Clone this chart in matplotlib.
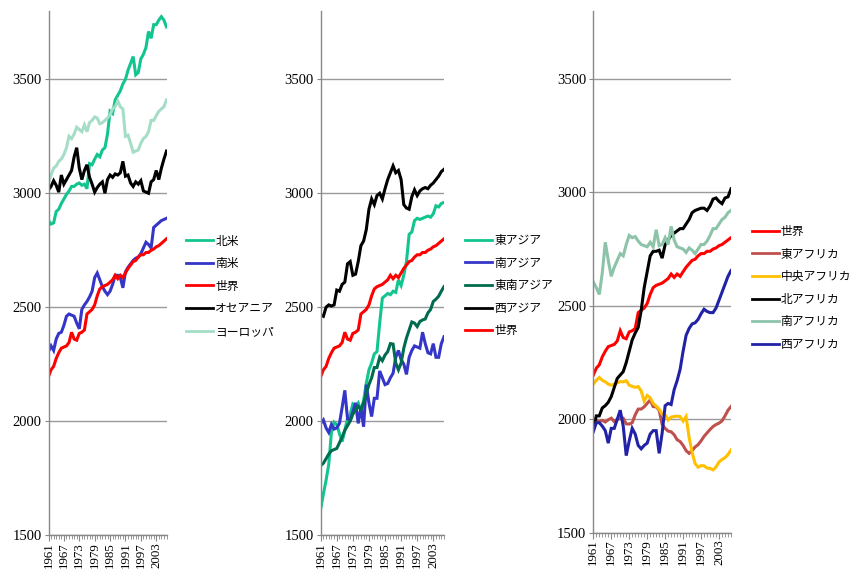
import numpy as np
import matplotlib
matplotlib.use("Agg")
import matplotlib.pyplot as plt
from matplotlib.ticker import FixedLocator, MultipleLocator

years = list(range(1961, 2008))
tick_years = list(range(1961, 2008, 6))
y_ticks = [1500, 2000, 2500, 3000, 3500]

world = [2195, 2225, 2240, 2275, 2300, 2320, 2325, 2330, 2345, 2390, 2360, 2355, 2385, 2390, 2400, 2470,
         2480, 2490, 2510, 2550, 2580, 2590, 2595, 2600, 2610, 2620, 2640, 2625, 2640, 2630, 2650, 2670,
         2685, 2700, 2705, 2720, 2730, 2730, 2740, 2740, 2750, 2755, 2765, 2770, 2780, 2790, 2800]

north_america = [2880, 2865, 2870, 2920, 2930, 2955, 2975, 2995, 3010, 3030, 3030, 3040, 3045, 3035, 3040, 3020,
                 3130, 3125, 3150, 3170, 3160, 3190, 3200, 3260, 3360, 3350, 3410, 3430, 3450, 3480, 3500, 3540,
                 3570, 3600, 3520, 3530, 3590, 3610, 3640, 3710, 3680, 3740, 3740, 3760, 3775, 3760, 3730]
south_america = [2305, 2330, 2310, 2360, 2385, 2390, 2420, 2460, 2470, 2465, 2460, 2430, 2405, 2490, 2510, 2525,
                 2545, 2570, 2630, 2650, 2620, 2590, 2570, 2555, 2570, 2600, 2640, 2640, 2630, 2585, 2655, 2675,
                 2690, 2705, 2715, 2720, 2735, 2760, 2785, 2775, 2760, 2850, 2860, 2870, 2880, 2885, 2890]
oceania = [3015, 3030, 3055, 3035, 3005, 3080, 3040, 3060, 3080, 3100, 3160, 3200, 3110, 3060, 3100, 3125,
           3070, 3040, 3005, 3025, 3040, 3050, 3000, 3060, 3080, 3070, 3085, 3080, 3090, 3140, 3075, 3080,
           3045, 3030, 3050, 3040, 3055, 3010, 3005, 3000, 3050, 3060, 3100, 3060, 3110, 3150, 3185]
europe = [3050, 3080, 3110, 3120, 3140, 3150, 3170, 3200, 3250, 3240, 3260, 3290, 3280, 3270, 3300, 3270,
          3310, 3320, 3335, 3330, 3305, 3310, 3320, 3330, 3345, 3370, 3380, 3405, 3380, 3370, 3250, 3255,
          3220, 3180, 3185, 3190, 3220, 3240, 3250, 3270, 3320, 3320, 3340, 3360, 3370, 3380, 3410]

east_asia = [1615, 1680, 1740, 1810, 1950, 1995, 1985, 1945, 1910, 1960, 2010, 2030, 2075, 2065, 2080, 2045,
             2090, 2165, 2225, 2255, 2295, 2305, 2430, 2540, 2550, 2560, 2555, 2570, 2565, 2620, 2595, 2640,
             2700, 2820, 2830, 2880, 2890, 2885, 2890, 2895, 2900, 2895, 2910, 2945, 2940, 2955, 2960]
south_asia = [1990, 2005, 1970, 1950, 1985, 1965, 1970, 1990, 2060, 2135, 2010, 2005, 2040, 2080, 1990, 2060,
              1975, 2160, 2080, 2020, 2100, 2100, 2220, 2190, 2160, 2165, 2190, 2210, 2280, 2310, 2270, 2250,
              2205, 2280, 2310, 2330, 2325, 2320, 2390, 2340, 2300, 2295, 2340, 2280, 2280, 2340, 2370]
southeast_asia = [1805, 1815, 1835, 1855, 1870, 1875, 1880, 1905, 1930, 1960, 1980, 2000, 2030, 2050, 2065, 2050,
                  2080, 2120, 2160, 2190, 2235, 2235, 2280, 2265, 2290, 2305, 2340, 2338, 2255, 2225, 2255, 2320,
                  2365, 2400, 2435, 2430, 2415, 2437, 2444, 2448, 2475, 2490, 2525, 2535, 2548, 2570, 2590]
west_asia = [2465, 2460, 2500, 2510, 2505, 2510, 2575, 2570, 2600, 2610, 2690, 2700, 2640, 2645, 2700, 2770,
             2790, 2840, 2930, 2975, 2950, 2990, 3000, 2975, 3020, 3060, 3090, 3120, 3090, 3100, 3060, 2950,
             2935, 2930, 2985, 3015, 2990, 3010, 3020, 3025, 3020, 3035, 3045, 3060, 3075, 3095, 3105]

east_africa = [1997, 1994, 1990, 1995, 1988, 1998, 2005, 1990, 2000, 2003, 2005, 1980, 1979, 1985, 2020, 2045,
               2045, 2055, 2070, 2085, 2056, 2055, 2040, 1978, 1960, 1948, 1945, 1932, 1910, 1902, 1885, 1862,
               1850, 1862, 1878, 1888, 1905, 1925, 1940, 1955, 1968, 1977, 1983, 1993, 2015, 2040, 2056]
central_africa = [2155, 2172, 2184, 2172, 2165, 2155, 2150, 2155, 2160, 2166, 2165, 2170, 2150, 2145, 2141, 2144,
                  2125, 2080, 2105, 2095, 2070, 2058, 2045, 2022, 2019, 1997, 2010, 2012, 2014, 2012, 1992, 2012,
                  1920, 1855, 1805, 1789, 1796, 1795, 1785, 1784, 1777, 1790, 1812, 1823, 1831, 1845, 1865]
north_africa = [1960, 2015, 2015, 2050, 2060, 2075, 2100, 2140, 2180, 2195, 2210, 2250, 2300, 2350, 2380, 2405,
                2480, 2580, 2650, 2720, 2740, 2740, 2745, 2710, 2770, 2790, 2810, 2820, 2830, 2840, 2840, 2860,
                2880, 2910, 2920, 2925, 2930, 2930, 2920, 2940, 2970, 2975, 2960, 2950, 2975, 2980, 3015]
southern_africa = [2605, 2580, 2550, 2645, 2780, 2700, 2630, 2670, 2700, 2730, 2720, 2770, 2810, 2800, 2805, 2785,
                   2770, 2765, 2760, 2780, 2760, 2835, 2765, 2770, 2800, 2770, 2850, 2790, 2760, 2755, 2750, 2735,
                   2755, 2745, 2730, 2750, 2770, 2770, 2785, 2810, 2840, 2840, 2860, 2880, 2890, 2910, 2920]
west_africa = [1945, 1985, 1985, 1970, 1950, 1895, 1960, 1960, 2000, 2040, 1970, 1840, 1905, 1960, 1935, 1885,
               1870, 1885, 1895, 1935, 1950, 1950, 1850, 1940, 2060, 2070, 2065, 2130, 2170, 2220, 2300, 2370,
               2400, 2420, 2425, 2440, 2465, 2485, 2475, 2470, 2470, 2490, 2525, 2560, 2595, 2630, 2655]

GREEN = "#12C58F"
BLUE = "#3535C8"
RED = "#FF0000"
BLACK = "#000000"
LIGHT = "#A6DDC6"
DKGREEN = "#006B4E"
BROWN = "#C0504D"
GOLD = "#FFC000"
GRAYGREEN = "#8DC3A9"
DKBLUE = "#2222A6"

panels = [
    dict(rect=[48.5, 11, 166.5, 535],
         series=[("北米", north_america, GREEN), ("南米", south_america, BLUE), ("世界", world, RED),
                 ("オセアニア", oceania, BLACK), ("ヨーロッパ", europe, LIGHT)],
         legend_xy=(186, 234.5)),
    dict(rect=[320.7, 11, 444, 535],
         series=[("東アジア", east_asia, GREEN), ("南アジア", south_asia, BLUE),
                 ("東南アジア", southeast_asia, DKGREEN), ("西アジア", west_asia, BLACK), ("世界", world, RED)],
         legend_xy=(465, 234)),
    dict(rect=[593.3, 10.7, 731, 532.8],
         series=[("世界", world, RED), ("東アフリカ", east_africa, BROWN), ("中央アフリカ", central_africa, GOLD),
                 ("北アフリカ", north_africa, BLACK), ("南アフリカ", southern_africa, GRAYGREEN),
                 ("西アフリカ", west_africa, DKBLUE)],
         legend_xy=(751.5, 225)),
]

W, H = 852, 570
fig = plt.figure(figsize=(W / 100, H / 100), dpi=100)
fig.patch.set_facecolor("white")

for p in panels:
    x0, y0, x1, y1 = p["rect"]
    ax = fig.add_axes([x0 / W, 1 - y1 / H, (x1 - x0) / W, (y1 - y0) / H])
    for label, vals, col in p["series"]:
        ax.plot(years, vals, color=col, lw=2.2, label=label, solid_joinstyle="miter")
    ax.set_xlim(1961, 2007)
    ax.set_ylim(1500, 3800)
    ax.yaxis.set_major_locator(FixedLocator(y_ticks))
    ax.xaxis.set_major_locator(FixedLocator(tick_years))
    ax.xaxis.set_minor_locator(MultipleLocator(1))
    ax.set_xticklabels([str(y) for y in tick_years], rotation=90, family="Liberation Serif", fontsize=9.3)
    for t in ax.get_yticklabels():
        t.set_family("Liberation Serif")
        t.set_fontsize(10.5)
    ax.grid(axis="y", color="#9A9A9A", lw=1.0)
    ax.set_axisbelow(True)
    for s in ["top", "right"]:
        ax.spines[s].set_visible(False)
    for s in ["left", "bottom"]:
        ax.spines[s].set_color("#888888")
        ax.spines[s].set_linewidth(1.0)
    ax.tick_params(axis="y", length=3, color="#888888", pad=2)
    ax.tick_params(axis="x", which="major", length=4, color="#888888", pad=1)
    ax.tick_params(axis="x", which="minor", length=3, color="#888888")
    ax.set_facecolor("none")
    lx, ly = p["legend_xy"]
    leg = ax.legend(loc="upper left", bbox_to_anchor=(lx / W, 1 - ly / H), bbox_transform=fig.transFigure,
                    frameon=False, prop={"family": ["Noto Sans CJK JP", "DejaVu Sans"], "size": 8.5},
                    handlelength=2.3, handletextpad=0.17, labelspacing=0.81, borderpad=0, borderaxespad=0)
    for h in leg.get_lines():
        h.set_linewidth(2.0)

fig.savefig("out.png", dpi=100, facecolor="white")
